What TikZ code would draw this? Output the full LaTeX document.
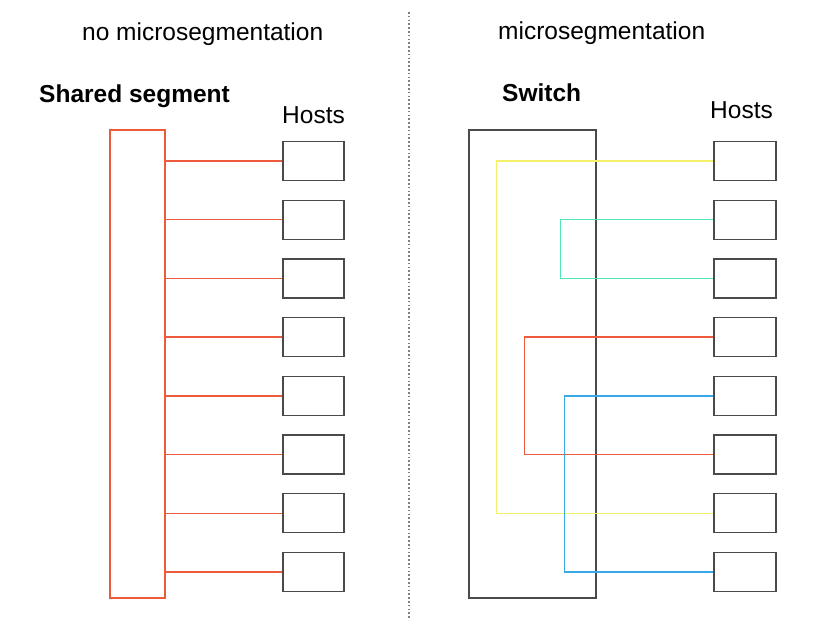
\documentclass[tikz,border=0pt]{standalone}
\usepackage{fontspec}
\setmainfont{Liberation Sans}
\definecolor{segred}{HTML}{EE5A3C}
\definecolor{linkyellow}{HTML}{F4F06A}
\definecolor{linkgreen}{HTML}{52E6B4}
\definecolor{linkblue}{HTML}{3AAAE6}
\definecolor{boxgray}{HTML}{4A4A4A}
\begin{document}
\begin{tikzpicture}[
  x=1pt,y=-1pt,
  host/.style={draw=boxgray, line width=1.3pt, minimum width=61pt, minimum height=39pt, inner sep=0pt},
  label/.style={anchor=base west, inner sep=0pt, font=\fontsize{24.5}{28}\selectfont},
  link/.style={line width=1.4pt}
]
\useasboundingbox[fill=white] (0,0) rectangle (820,633);

% titles
\node[label] (tleft) at (82,40) {no microsegmentation};
\node[label] (tright) at (498,39) {microsegmentation};
\node[label, font=\fontsize{24.5}{28}\selectfont\bfseries] (lseg) at (39,102) {Shared segment};
\node[label, font=\fontsize{24.5}{28}\selectfont\bfseries] (lsw) at (502,101) {Switch};
\node[label] (lhostsl) at (282,123) {Hosts};
\node[label] (lhostsr) at (710,118) {Hosts};

% divider
\coordinate (dtop) at (409,12);
\coordinate (dbot) at (409,620);
\draw[gray, line width=1.2pt, dash pattern=on 1.5pt off 2.3pt] (dtop) -- (dbot);

% shared segment and switch
\node[draw=segred, link, minimum width=55pt, minimum height=468pt, inner sep=0pt] (seg) at (137.5,364) {};
\node[draw=boxgray, line width=1.3pt, minimum width=127pt, minimum height=468pt, inner sep=0pt] (sw) at (532.5,364) {};

% hosts
\foreach \i in {1,...,8} {
  \node[host] (hl\i) at (313.5,{161+(\i-1)*58.7}) {};
  \node[host, minimum width=62pt] (hr\i) at (745,{161+(\i-1)*58.7}) {};
  \draw[segred, link] (hl\i.west) -- (hl\i.west -| seg.east);
}

% microsegmented links
\coordinate (ky) at ([xshift=28pt]sw.west);
\coordinate (kg) at ([xshift=92pt]sw.west);
\coordinate (kr) at ([xshift=56pt]sw.west);
\coordinate (kb) at ([xshift=96pt]sw.west);
\draw[linkyellow, link] (hr1.west) -| (ky |- hr7.west) -- (hr7.west);
\draw[linkgreen, link] (hr2.west) -| (kg |- hr3.west) -- (hr3.west);
\draw[segred, link] (hr4.west) -| (kr |- hr6.west) -- (hr6.west);
\draw[linkblue, link] (hr5.west) -| (kb |- hr8.west) -- (hr8.west);
\end{tikzpicture}
\end{document}
